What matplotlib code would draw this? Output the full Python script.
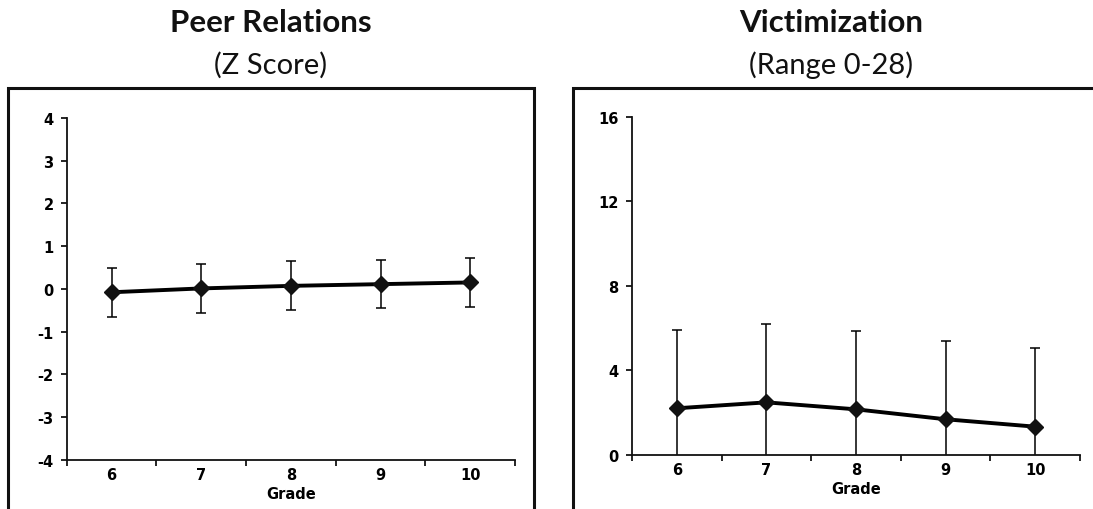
import numpy as np
import matplotlib
matplotlib.use("Agg")
import matplotlib.pyplot as plt
from matplotlib.patches import Rectangle

# Grade-level means and standard deviations
grades = [6, 7, 8, 9, 10]

peer_mean = [-0.08, 0.01, 0.07, 0.11, 0.15]
peer_sd = [0.575, 0.575, 0.575, 0.57, 0.57]

victim_mean = [2.21, 2.49, 2.16, 1.69, 1.34]
victim_sd = [3.70, 3.70, 3.70, 3.70, 3.73]

peer_yticks = [-4, -3, -2, -1, 0, 1, 2, 3, 4]
victim_yticks = [0, 4, 8, 12, 16]

W, H = 1093, 510
fig = plt.figure(figsize=(W / 100, H / 100), dpi=100)

TICK_FONT = dict(family="DejaVu Sans", weight="bold", size=10.5)
TITLE_FONT = "Lato"


def px(x0, y0, x1, y1):
    """axes rect from pixel box (top-left origin)"""
    return [x0 / W, 1 - y1 / H, (x1 - x0) / W, (y1 - y0) / H]


def draw_panel(ax, means, sds, ylim, yticks):
    x = np.array(grades)
    ax.errorbar(x, means, yerr=sds, fmt="none", ecolor="black",
                elinewidth=1.1, capsize=3.6, capthick=1.1, zorder=2)
    ax.plot(x, means, color="black", lw=2.8, marker="D", markersize=8.5,
            markerfacecolor="#111111", markeredgecolor="#111111", zorder=3)

    ax.set_xlim(5.5, 10.5)
    ax.set_ylim(*ylim)
    for s in ["top", "right"]:
        ax.spines[s].set_visible(False)
    for s in ["left", "bottom"]:
        ax.spines[s].set_linewidth(1.3)
        ax.spines[s].set_color("#111111")

    # major ticks at category boundaries, labels at category centres
    ax.set_xticks(np.arange(5.5, 10.6, 1.0))
    ax.set_xticklabels([])
    ax.set_xticks(x, minor=True)
    ax.set_xticklabels([str(g) for g in grades], minor=True, fontdict=TICK_FONT)
    ax.tick_params(axis="x", which="major", direction="out", length=4, width=1.2)
    ax.tick_params(axis="x", which="minor", length=0, pad=5)

    ax.set_yticks(yticks)
    ax.set_yticklabels([str(t) for t in yticks], fontdict=TICK_FONT)
    ax.tick_params(axis="y", direction="out", length=4.5, width=1.2, pad=5)
    ax.set_xlabel("Grade", fontdict=TICK_FONT, labelpad=3)
    ax.patch.set_alpha(0)


ax1 = fig.add_axes(px(66.7, 119, 515, 460.7))
draw_panel(ax1, peer_mean, peer_sd, (-4, 4), peer_yticks)

ax2 = fig.add_axes(px(632, 117.7, 1080, 456))
draw_panel(ax2, victim_mean, victim_sd, (0, 16), victim_yticks)

# outer frames around each panel
for x0, x1 in [(8, 534), (572.7, 1100)]:
    fig.patches.append(Rectangle((x0 / W, -0.05), (x1 - x0) / W, 1.05 - 89 / H,
                                 transform=fig.transFigure, fill=False,
                                 edgecolor="#111111", lw=2.2))

# panel headings
for cx, head, sub in [(271, "Peer Relations", "(Z Score)"),
                      (831, "Victimization", "(Range 0-28)")]:
    fig.text(cx / W, 1 - 32 / H, head, ha="center", va="baseline",
             family=TITLE_FONT, weight="bold", size=22.5, color="#111111")
    fig.text(cx / W, 1 - 74 / H, sub, ha="center", va="baseline",
             family=TITLE_FONT, size=21, color="#111111")

fig.savefig("out.png", dpi=100)
